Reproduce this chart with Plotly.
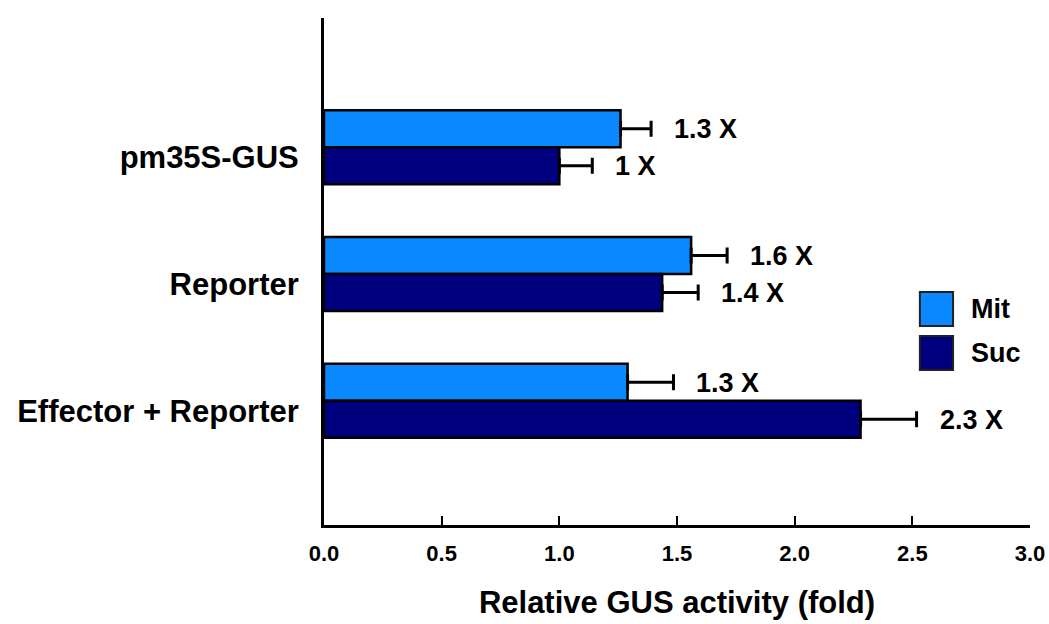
import plotly.graph_objects as go

categories = ["pm35S-GUS", "Reporter", "Effector + Reporter"]
mit_values = [1.26, 1.56, 1.29]
mit_errors = [0.13, 0.153, 0.195]
mit_labels = ["1.3 X", "1.6 X", "1.3 X"]
suc_values = [1.0, 1.437, 2.28]
suc_errors = [0.14, 0.153, 0.238]
suc_labels = ["1 X", "1.4 X", "2.3 X"]
x_ticks = [0.0, 0.5, 1.0, 1.5, 2.0, 2.5, 3.0]

MIT_COLOR = "#0A88FF"
SUC_COLOR = "#00007F"
FONT = "Liberation Sans, Arial, sans-serif"

fig = go.Figure()
for name, vals, errs, color in [("Mit", mit_values, mit_errors, MIT_COLOR),
                                ("Suc", suc_values, suc_errors, SUC_COLOR)]:
    fig.add_trace(go.Bar(
        name=name, y=categories, x=vals, orientation="h",
        marker=dict(color=color, line=dict(color="black", width=2.5)),
        error_x=dict(type="data", symmetric=False, array=errs,
                     arrayminus=[0] * len(errs), color="black",
                     thickness=3, width=8),
        showlegend=False,
    ))

# value labels after the error bars
annotations = []
for vals, errs, labels, tr in [(mit_values, mit_errors, mit_labels, 0),
                               (suc_values, suc_errors, suc_labels, 1)]:
    for cat, v, e, lab in zip(categories, vals, errs, labels):
        annotations.append(dict(
            x=v + e, y=cat, text=lab, showarrow=False, xanchor="left",
            xshift=21, yshift=(18 if tr == 0 else -19),
            font=dict(family=FONT, size=27, color="black", weight="bold"),
        ))

# manual legend
legend_items = [("Mit", MIT_COLOR, 0.4596, 0.3925), ("Suc", SUC_COLOR, 0.3728, 0.3057)]
shapes = []
for name, color, y1, y0 in legend_items:
    shapes.append(dict(type="rect", xref="paper", yref="paper",
                       x0=0.844, x1=0.891, y0=y0, y1=y1,
                       fillcolor=color, line=dict(color="#222222", width=2)))
    annotations.append(dict(xref="paper", yref="paper", x=0.9136, y=(y0 + y1) / 2,
                            text=name, showarrow=False, xanchor="left", yanchor="middle",
                            font=dict(family=FONT, size=27, color="black", weight="bold")))

fig.update_layout(
    width=1049, height=624,
    margin=dict(l=324, r=19, t=18, b=99, autoexpand=False),
    paper_bgcolor="white", plot_bgcolor="white",
    barmode="group", bargap=0.416, bargroupgap=0,
    shapes=shapes, annotations=annotations,
    showlegend=False,
    font=dict(family=FONT, color="black"),
)
fig.update_xaxes(
    range=[0, 3], tickvals=x_ticks, tickformat=".1f",
    showline=True, linecolor="black", linewidth=3,
    ticks="inside", ticklen=9, tickwidth=2, tickcolor="black",
    showgrid=False, zeroline=False, ticklabelstandoff=7,
    tickfont=dict(family=FONT, size=22, weight="bold"),
    title=dict(text="Relative GUS activity (fold)", standoff=26,
               font=dict(family=FONT, size=31, weight="bold")),
)
fig.update_yaxes(
    range=[2.98, -1.02], type="category",
    showline=True, linecolor="black", linewidth=3,
    ticks="", showgrid=False, zeroline=False, ticklabelstandoff=16,
    ticklabelshift=-10,
    tickfont=dict(family=FONT, size=31, weight="bold"),
)

fig.write_html("out.html", config={"displayModeBar": False},
               post_script="document.body.style.margin='0px';")
